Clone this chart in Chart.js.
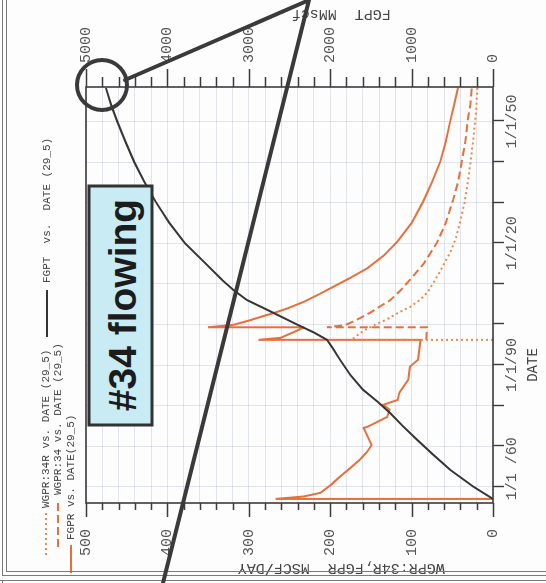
<!DOCTYPE html>
<html>
<head>
<meta charset="utf-8">
<script src="https://cdn.jsdelivr.net/npm/chart.js@4.4.1/dist/chart.umd.min.js"></script>
<style>
    html, body { margin: 0; padding: 0; background: #fff; }
    #page { position: relative; width: 546px; height: 583px; overflow: hidden; background: #fdfdfd; }
    /* chart is drawn upright, then turned a quarter left like the photo */
    #wrap { position: absolute; left: 0; top: 0; width: 583px; height: 546px;
        transform-origin: 0 0; transform: translateY(583px) rotate(-90deg); }
    #notes { position: absolute; left: 0; top: 0; }
</style>
</head>
<body>
<div id="page">
    <div id="wrap"><canvas id="resultsChart" width="583" height="546"></canvas></div>
    <svg id="notes" width="546" height="583">
        <g stroke="#7a7a7a" stroke-width="1" fill="none">
            <line x1="2.5" y1="0" x2="2.5" y2="575"/>
            <line x1="6.5" y1="0" x2="6.5" y2="571"/>
            <line x1="6" y1="571.5" x2="546" y2="571.5"/>
            <line x1="2" y1="575.5" x2="546" y2="575.5"/>
            <line x1="0" y1="580.5" x2="546" y2="580.5"/>
            <line x1="2.5" y1="580" x2="2.5" y2="583"/>
        </g>
        <rect x="89" y="186" width="63" height="239" fill="#c8ebf4" stroke="#333" stroke-width="3"/>
        <text transform="translate(136,305) rotate(-90)" text-anchor="middle"
            font-family="Liberation Sans, Arial, sans-serif" font-weight="bold" font-size="39" fill="#1c1c1c">#34 flowing</text>
        <g stroke="#3a3a3a" stroke-width="4" fill="none" stroke-linecap="round">
            <circle cx="102" cy="85" r="25"/>
            <line x1="125" y1="80" x2="307" y2="1"/>
            <line x1="309" y1="0" x2="163" y2="583"/>
        </g>
    </svg>
</div>
<script>
// FGPR (solid orange)
const fgprDates = [1957.0, 1957.0, 1957.6, 1958.5, 1960.5, 1962.5, 1964.5, 1966.6, 1968.5, 1970.3,
    1972.0, 1974.5, 1974.8, 1976.0, 1977.2, 1979.0, 1980.2, 1981.4, 1983.2, 1986.4,
    1989.6, 1991.3, 1996.2, 1996.2, 1996.7, 1998.0, 1999.2, 1999.3, 1999.9, 2001.0,
    2002.0, 2002.9, 2004.0, 2005.6, 2007.5, 2009.3, 2011.5, 2013.9, 2017.0, 2020.3,
    2025.0, 2030.2, 2035.0, 2040.0, 2045.0, 2049.7, 2054.0, 2058.3];
const fgprValues = [0, 267, 233, 212, 199, 188, 176, 164, 155, 149,
    153, 159, 154, 142, 130, 127, 135, 117, 115, 104,
    102, 92, 89, 288, 261, 246, 233, 350, 319, 299,
    283, 268, 252, 232, 213, 196, 175, 154, 134, 118,
    100, 86, 75, 65, 58, 53, 48, 43];

// WGPR:34 (dashed orange)
const wgpr34Dates = [1996.2, 1999.3, 1999.3, 1999.8, 2000.7, 2001.6, 2003.0, 2004.3, 2006.0,
    2008.5, 2011.0, 2015.0, 2020.1, 2025.0, 2030.7, 2035.0, 2040.5, 2045.0, 2050.4,
    2054.0, 2058.5];
const wgpr34Values = [82, 81, 204, 182, 172, 163, 150, 140, 126,
    113, 102, 85, 69, 58, 49, 43, 38, 34, 31,
    28, 26];

// WGPR:34R (dotted orange)
const wgpr34rDates = [1996.2, 1996.2, 1996.5, 1997.6, 1998.7, 2000.0, 2001.1, 2002.9, 2004.3, 2006.0,
    2008.0, 2011.0, 2014.2, 2018.0, 2021.0, 2025.6, 2030.0, 2036.2, 2041.0, 2046.0,
    2052.0, 2058.5];
const wgpr34rValues = [0, 175, 172, 165, 157, 144, 132, 116, 102, 90,
    80, 71, 62, 52, 46, 40, 35, 30, 27, 24,
    21, 19];

// FGPT (black, right axis)
const fgptDates = [1957.0, 1960.0, 1964.2, 1968.0, 1971.6, 1975.0, 1978.2, 1981.0, 1983.9, 1987.5,
    1991.3, 1994.0, 1996.2, 1998.0, 2000.0, 2002.9, 2006.0, 2008.5, 2011.0, 2015.0,
    2020.0, 2025.0, 2030.0, 2035.0, 2040.0, 2045.0, 2050.0, 2054.0, 2058.3];
const fgptValues = [0, 240, 528, 740, 934, 1110, 1265, 1420, 1597, 1750,
    1880, 1965, 2039, 2200, 2410, 2703, 3022, 3190, 3330, 3530,
    3784, 3975, 4137, 4280, 4407, 4515, 4616, 4690, 4756];

const dateGridYears = [1960, 1970, 1980, 1990, 2000, 2010, 2020, 2030, 2040, 2050];
const dateTickYears = [1960, 1990, 2020, 2050];
const dateTickLabels = ['    1/1 /60', '1/1/90', '1/1/20', '1/1/50'];

const leftTitle = 'WGPR:34R,FGPR  MSCF/DAY';
const rightTitle = 'FGPT  MMscf';
const dateTitle = 'DATE';

const orange = '#e6703c';
const gridColor = 'rgba(185,190,220,0.42)';

const pts = (dates, vals) => dates.map((d, i) => ({ x: d, y: vals[i] }));

// where each legend entry sits: line start, line end, text start, row
const legendSpots = [
    [28, 70, 75, 46],
    [36, 82, 88, 58],
    [10, 38, 43, 71],
    [246, 293, 300, 47]
];

const framePlugin = {
    id: 'frame',
    afterDraw(chart) {
        const { ctx, chartArea: a } = chart;
        const { x, y, y2 } = chart.scales;
        ctx.save();
        ctx.strokeStyle = '#3b3b3b';
        ctx.lineWidth = 1.6;
        ctx.setLineDash([]);
        ctx.strokeRect(a.left, a.top, a.right - a.left, a.bottom - a.top);

        ctx.lineWidth = 1.4;
        ctx.beginPath();
        x.ticks.forEach(t => {
            const px = Math.round(x.getPixelForValue(t.value)) + 0.5;
            ctx.moveTo(px, a.bottom); ctx.lineTo(px, a.bottom + 11);
        });
        y.ticks.forEach(t => {
            const py = Math.round(y.getPixelForValue(t.value)) + 0.5;
            const len = t.value % 100 === 0 ? 14 : 7;
            ctx.moveTo(a.left, py); ctx.lineTo(a.left - len, py);
        });
        y2.ticks.forEach(t => {
            const py = Math.round(y2.getPixelForValue(t.value)) + 0.5;
            const len = t.value % 1000 === 0 ? 18 : 10;
            ctx.moveTo(a.right, py); ctx.lineTo(a.right + len, py);
        });
        ctx.stroke();

        // axis titles
        const titleV = a.top + (a.bottom - a.top) * 0.627;
        ctx.fillStyle = '#444';
        ctx.font = '15px "Liberation Mono", monospace';
        ctx.textAlign = 'center';
        ctx.textBaseline = 'middle';
        ctx.save();
        ctx.translate(15, titleV); ctx.rotate(-Math.PI / 2);
        ctx.fillText(leftTitle, 0, 0);
        ctx.restore();
        ctx.save();
        ctx.translate(569, titleV); ctx.rotate(-Math.PI / 2);
        ctx.fillText(rightTitle, 0, 0);
        ctx.restore();
        ctx.font = '14px "Liberation Mono", monospace';
        ctx.fillText(dateTitle, x.getPixelForValue(1990), a.bottom + 40);

        // legend
        ctx.font = '11px "Liberation Mono", monospace';
        ctx.textAlign = 'left';
        chart.data.datasets.forEach((ds, i) => {
            const [l0, l1, t0, v] = legendSpots[i];
            ctx.strokeStyle = ds.borderColor;
            ctx.lineWidth = 2;
            ctx.setLineDash(ds.borderDash || []);
            ctx.beginPath();
            ctx.moveTo(l0, v); ctx.lineTo(l1, v);
            ctx.stroke();
            ctx.fillStyle = '#444';
            ctx.fillText(ds.label, t0, v);
        });
        ctx.restore();
    }
};

Chart.defaults.font.family = '"Liberation Mono", monospace';
Chart.defaults.color = '#555';

var ctx = document.getElementById('resultsChart').getContext('2d');
new Chart(ctx, {
    type: 'line',
    data: {
        datasets: [{
            label: 'WGPR:34R vs. DATE (29_5)',
            data: pts(wgpr34rDates, wgpr34rValues),
            borderColor: '#ea8a48',
            borderWidth: 2,
            borderDash: [2, 3],
            yAxisID: 'y',
            order: 1
        }, {
            label: 'WGPR:34 vs. DATE (29_5)',
            data: pts(wgpr34Dates, wgpr34Values),
            borderColor: orange,
            borderWidth: 2,
            borderDash: [8, 4],
            yAxisID: 'y',
            order: 2
        }, {
            label: 'FGPR vs. DATE(29_5)',
            data: pts(fgprDates, fgprValues),
            borderColor: orange,
            borderWidth: 2,
            yAxisID: 'y',
            order: 3
        }, {
            label: 'FGPT  vs.  DATE (29_5)',
            data: pts(fgptDates, fgptValues),
            borderColor: '#353535',
            borderWidth: 2,
            yAxisID: 'y2',
            order: 0
        }]
    },
    options: {
        responsive: false,
        animation: false,
        devicePixelRatio: 1,
        layout: { padding: { top: 86, left: 0, right: 0, bottom: 0 } },
        elements: { point: { radius: 0 }, line: { tension: 0 } },
        plugins: { legend: { display: false }, tooltip: { enabled: false } },
        scales: {
            x: {
                type: 'linear',
                min: 1956,
                max: 2058.5,
                afterBuildTicks: s => { s.ticks = dateGridYears.map(v => ({ value: v })); },
                afterFit: s => { s.height = 53; },
                ticks: {
                    autoSkip: false,
                    maxRotation: 0,
                    padding: 10,
                    font: { size: 15 },
                    callback: v => {
                        const i = dateTickYears.indexOf(v);
                        return i >= 0 ? dateTickLabels[i] : '';
                    }
                },
                grid: { color: gridColor, drawTicks: false },
                border: { display: false }
            },
            y: {
                position: 'left',
                min: 0,
                max: 500,
                afterFit: s => { s.width = 80; },
                ticks: {
                    stepSize: 20,
                    autoSkip: false,
                    padding: 26,
                    font: { size: 15 },
                    callback: v => (v % 100 === 0 ? v : '')
                },
                grid: { color: gridColor, drawTicks: false },
                border: { display: false }
            },
            y2: {
                position: 'right',
                min: 0,
                max: 5000,
                afterFit: s => { s.width = 87; },
                ticks: {
                    stepSize: 200,
                    autoSkip: false,
                    padding: 24,
                    font: { size: 15 },
                    callback: v => (v % 1000 === 0 ? v : '')
                },
                grid: { drawOnChartArea: false, drawTicks: false },
                border: { display: false }
            }
        }
    },
    plugins: [framePlugin]
});
</script>
</body>
</html>
